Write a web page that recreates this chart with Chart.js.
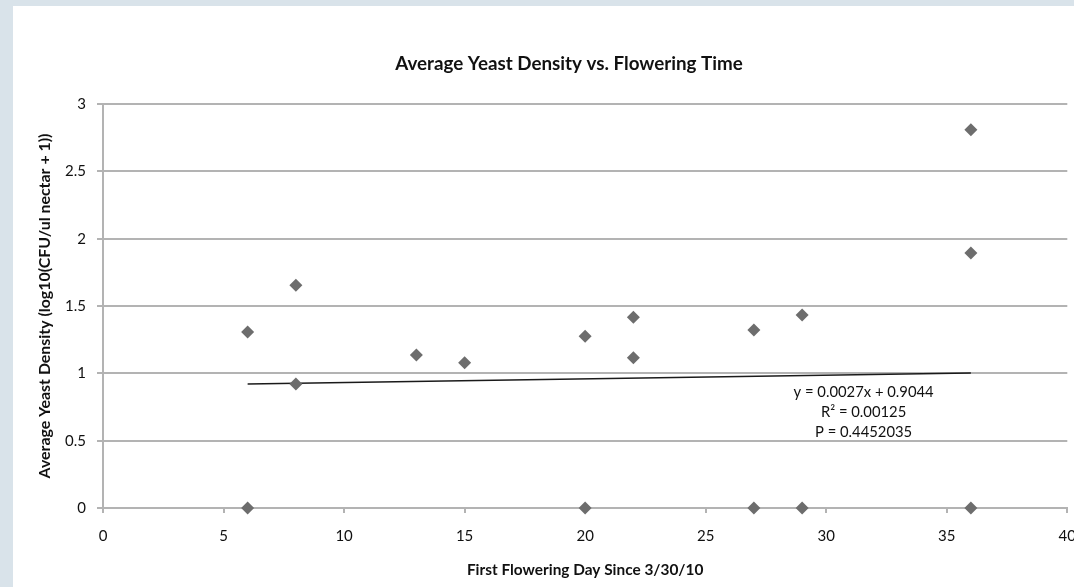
<!DOCTYPE html>
<html>
<head>
<meta charset="utf-8">
<script src="https://cdn.jsdelivr.net/npm/chart.js@4.4.1/dist/chart.umd.min.js"></script>
<style>
  html, body { margin: 0; padding: 0; width: 1074px; height: 587px; overflow: hidden; background: #d9e3ea; }
  #panel { position: absolute; left: 13px; top: 6px; right: 0; bottom: 0; background: #ffffff; }
  #c { position: absolute; left: 0; top: 0; }
</style>
</head>
<body>
<div id="panel"></div>
<canvas id="c" width="1090" height="587"></canvas>
<script>
// ---- data ----
const flowerDay = [6, 6, 8, 8, 13, 15, 20, 20, 22, 22, 27, 27, 29, 29, 36, 36, 36];
const yeastDensity = [1.307, 0, 1.655, 0.920, 1.136, 1.079, 1.275, 0, 1.417, 1.116, 1.322, 0, 1.434, 0, 2.808, 1.893, 0];
const xTicks = [0, 5, 10, 15, 20, 25, 30, 35, 40];
const yTicks = [0, 0.5, 1, 1.5, 2, 2.5, 3];
const yTickLabels = ['0', '0.5', '1', '1.5', '2', '2.5', '3'];
const trendSlope = 0.0027;
const trendIntercept = 0.9044;
const annotationLines = ['y = 0.0027x + 0.9044', 'R\u00B2 = 0.00125', 'P = 0.4452035'];
const chartTitle = 'Average Yeast Density vs. Flowering Time';
const xTitle = 'First Flowering Day Since 3/30/10';
const yTitle = 'Average Yeast Density (log10(CFU/ul nectar + 1))';

const FONT = 'Lato, "Open Sans", sans-serif';
const points = flowerDay.map((d, i) => ({ x: d, y: yeastDensity[i] }));
const xMin = Math.min(...flowerDay), xMax = Math.max(...flowerDay);
const trend = [xMin, xMax].map(x => ({ x: x, y: trendSlope * x + trendIntercept }));

const titlePlugin = {
  id: 'mainTitle',
  afterDraw(chart) {
    const ctx = chart.ctx;
    ctx.save();
    ctx.font = 'bold 18.8px ' + FONT;
    ctx.fillStyle = '#111';
    ctx.textAlign = 'center';
    ctx.textBaseline = 'middle';
    ctx.fillText(chartTitle, 569, 63.5);
    ctx.restore();
  }
};

const annotationPlugin = {
  id: 'trendAnnotation',
  afterDatasetsDraw(chart) {
    const ctx = chart.ctx;
    const xs = chart.scales.x, ys = chart.scales.y;
    const cx = xs.getPixelForValue(31.55);
    const cy = ys.getPixelForValue(0.863);
    ctx.save();
    ctx.font = '14.8px ' + FONT;
    ctx.fillStyle = '#111';
    ctx.textAlign = 'center';
    ctx.textBaseline = 'middle';
    annotationLines.forEach((t, i) => ctx.fillText(t, cx, cy + i * 20));
    ctx.restore();
  }
};

const GRID = '#b3b3b3';

new Chart(document.getElementById('c'), {
  type: 'scatter',
  data: {
    datasets: [
      {
        type: 'line',
        data: trend,
        borderColor: '#1a1a1a',
        borderWidth: 1.5,
        pointRadius: 0,
        fill: false,
        order: 2
      },
      {
        data: points,
        pointStyle: 'rectRot',
        pointRadius: 6.5,
        pointHoverRadius: 6.5,
        backgroundColor: '#6d6d6d',
        borderColor: '#6d6d6d',
        borderWidth: 0,
        clip: false,
        order: 1
      }
    ]
  },
  options: {
    responsive: false,
    animation: false,
    events: [],
    layout: { padding: { left: 0, right: 19, top: 104, bottom: 0 } },
    plugins: {
      legend: { display: false },
      title: { display: false },
      tooltip: { enabled: false }
    },
    scales: {
      x: {
        type: 'linear',
        min: 0, max: 40,
        afterBuildTicks(scale) { scale.ticks = xTicks.map(v => ({ value: v })); },
        afterFit(scale) { scale.height = 79; },
        grid: { drawOnChartArea: false, drawTicks: true, tickLength: 5, color: GRID, lineWidth: 2 },
        border: { display: true, color: GRID, width: 2 },
        ticks: { color: '#111', font: { family: FONT, size: 15 }, padding: 14, maxRotation: 0,
                 callback: (v) => String(v) },
        title: { display: true, text: xTitle, color: '#111', font: { family: FONT, size: 15.4, weight: 'bold' }, padding: { top: 0, bottom: 7.8 } }
      },
      y: {
        type: 'linear',
        min: 0, max: 3,
        afterBuildTicks(scale) { scale.ticks = yTicks.map(v => ({ value: v })); },
        afterFit(scale) { scale.width = 103; },
        grid: { drawOnChartArea: true, drawTicks: true, tickLength: 6, color: GRID, lineWidth: 2 },
        border: { display: true, color: GRID, width: 2 },
        ticks: { color: '#111', font: { family: FONT, size: 15 }, padding: 11,
                 callback: (v) => yTickLabels[yTicks.indexOf(v)] ?? String(v) },
        title: { display: true, text: yTitle, color: '#111', font: { family: FONT, size: 15.9, weight: 'bold' }, padding: { top: 35.5, bottom: 0 } }
      }
    }
  },
  plugins: [titlePlugin, annotationPlugin]
});
</script>
</body>
</html>
